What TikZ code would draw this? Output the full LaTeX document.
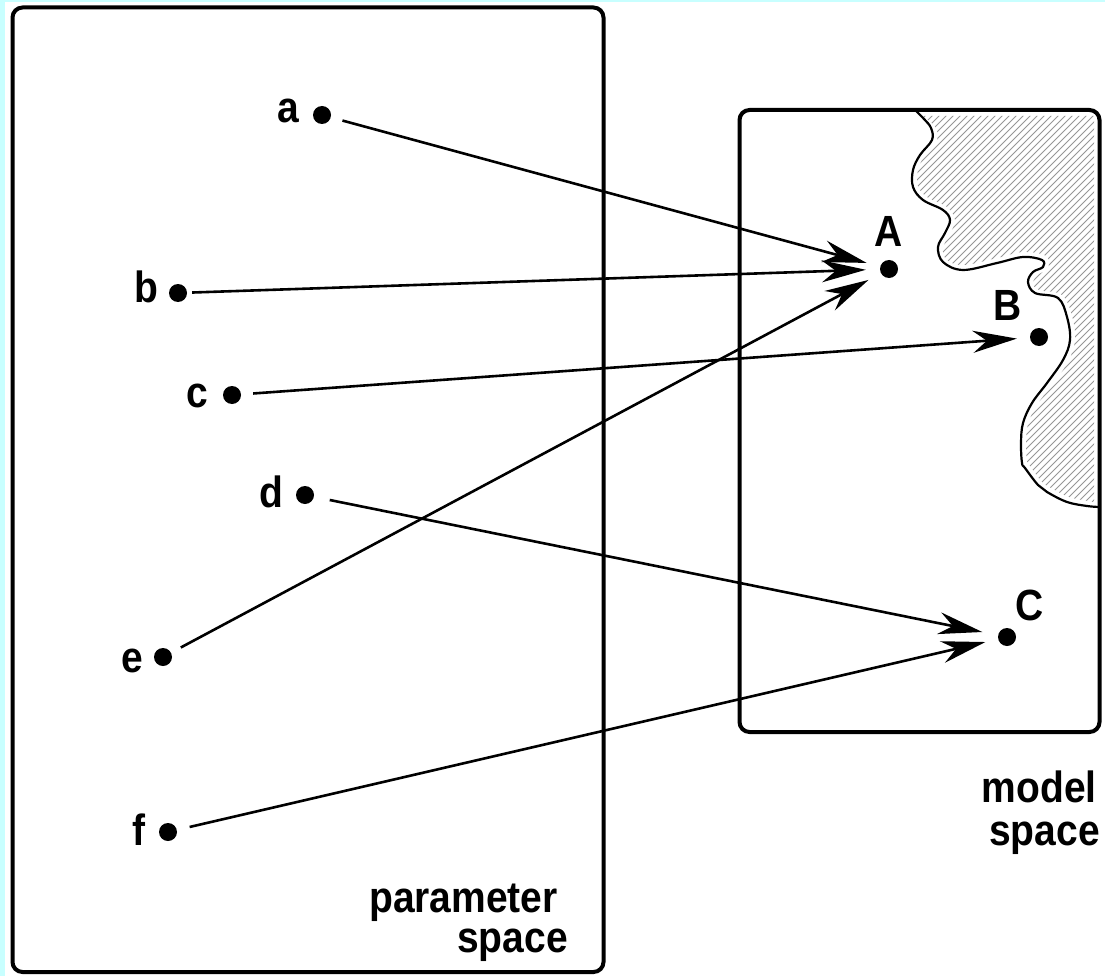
\documentclass[tikz,border=0pt]{standalone}
\usepackage{fontspec}
\setmainfont{Liberation Sans}
\usetikzlibrary{arrows.meta}
\definecolor{bgcyan}{RGB}{200,255,255}
\definecolor{hatchgray}{RGB}{150,150,150}
\newcommand\lbl[1]{\scalebox{1}[1.12]{#1}}
\begin{document}
\begin{tikzpicture}[x=1pt,y=-1pt,
  dot/.style={circle,fill=black,inner sep=0pt,minimum size=18pt},
  lab/.style={inner sep=0pt,anchor=base,font=\bfseries\fontsize{39}{44}\selectfont},
  captext/.style={inner sep=0pt,anchor=base east,font=\bfseries\fontsize{39}{44}\selectfont},
  spacebox/.style={draw,line width=4pt,rounded corners=10pt},
  arr/.style={line width=2.6pt,-{Stealth[length=44pt,width=22pt,inset=14pt]}},
  coast/.style={line width=2.2pt,line join=round},
  hatch/.style={draw=hatchgray,line width=0.9pt}
]
\useasboundingbox (0,0) rectangle (1105,976);
\fill[bgcyan] (0,0) rectangle (1105,976);
\fill[white] (5,2) rectangle (1105,976);

% hatched region (slightly inset from its boundary)
\begin{scope}
\clip (1094,116) -- plot[smooth,tension=0.6] coordinates {(922,116) (929,121) (936,128) (937,140) (925,155) (918,170) (918,186) (927,197) (947,207) (955,220) (950,234) (943,248) (947,260) (964,265) (997,258) (1023,252) (1046,256) (1048,268) (1038,275) (1033,283) (1039,290) (1062,295) (1072,316) (1075,340) (1068,362) (1052,385) (1037,405) (1028,424) (1026,443) (1027,461) (1030,466) (1042,482) (1051,488) (1069,497) (1088,501) (1094,502)} -- cycle;
\foreach \k in {1020,1027,...,1615}
  \draw[hatch] ({\k-520},520) -- ({\k-100},100);
\end{scope}
\draw[coast] plot[smooth,tension=0.6] coordinates {(915,110) (924,119) (931,128) (932,140) (920,155) (913,170) (913,187) (923,200) (943,210) (950,220) (945,233) (938,247) (943,262) (963,270) (997,263) (1023,257) (1042,260) (1043,267) (1033,272) (1028,282) (1035,293) (1058,298) (1067,317) (1070,340) (1063,360) (1047,383) (1032,403) (1023,423) (1021,443) (1022,463) (1025,468) (1038,485) (1047,492) (1067,502) (1087,506) (1099.5,507)};

% boxes
\draw[spacebox] (12.5,7.5) rectangle (603.5,972);
\draw[spacebox] (739.5,110) rectangle (1099.5,732);

% points
\node[dot] (a) at (322,115) {};
\node[dot] (b) at (178,293) {};
\node[dot] (c) at (232,395) {};
\node[dot] (d) at (305,495) {};
\node[dot] (e) at (163,657) {};
\node[dot] (f) at (168,832) {};
\node[dot] (A) at (889,269) {};
\node[dot] (B) at (1039,337) {};
\node[dot] (C) at (1007,637) {};

% labels
\node[lab] (la) at (288,123) {\lbl{a}};
\node[lab] (lb) at (146,302) {\lbl{b}};
\node[lab] (lc) at (197,407) {\lbl{c}};
\node[lab] (ld) at (271,507) {\lbl{d}};
\node[lab] (le) at (132,672) {\lbl{e}};
\node[lab] (lf) at (139,845) {\lbl{f}};
\node[lab] (lA) at (889,247) {\lbl{A}};
\node[lab] (lB) at (1008,320) {\lbl{B}};
\node[lab] (lC) at (1030,620) {\lbl{C}};

\node[captext] (model1) at (1097,802) {\lbl{model}};
\node[captext] (model2) at (1100,845) {\lbl{space}};
\node[captext] (param1) at (558,912) {\lbl{parameter}};
\node[captext] (param2) at (568,952) {\lbl{space}};

% arrows
\draw[arr,shorten <=12pt,shorten >=14pt] (a) -- (A);
\draw[arr,shorten <=5pt,shorten >=14pt] (b) -- (A);
\draw[arr,shorten <=11pt,shorten >=14pt] (e) -- (A);
\draw[arr,shorten <=12pt,shorten >=13pt] (c) -- (B);
\draw[arr,shorten <=16pt,shorten >=16pt] (d) -- (C);
\draw[arr,shorten <=13pt,shorten >=13pt] (f) -- (C);
\end{tikzpicture}
\end{document}
